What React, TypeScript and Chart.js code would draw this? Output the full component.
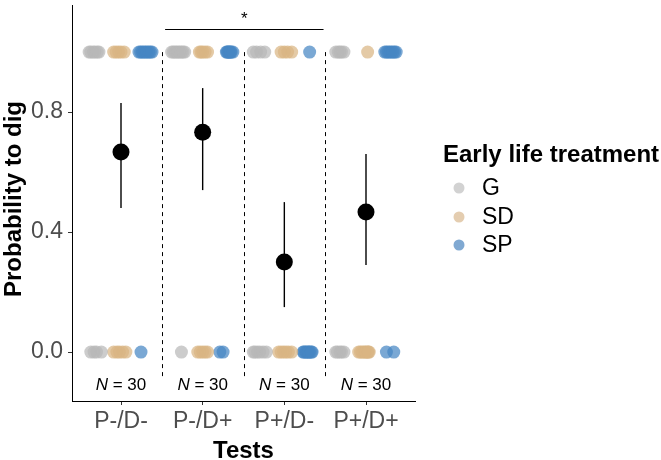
import React, { useEffect, useRef } from "react";
import { Chart, registerables } from "chart.js";

Chart.register(...registerables);

const FONT = '"Liberation Sans", Arial, Helvetica, sans-serif';

// Test conditions on the x axis
const tests = ["P-/D-", "P-/D+", "P+/D-", "P+/D+"];
// Mean probability to dig per test, with its confidence interval
const meanProb = [0.667, 0.733, 0.3, 0.467];
const ciLow = [0.48, 0.54, 0.15, 0.29];
const ciHigh = [0.83, 0.88, 0.5, 0.66];
const sampleN = [30, 30, 30, 30];
const yTicks = [0, 0.4, 0.8];

// Early life treatment groups
const groups = ["G", "SD", "SP"];
const groupColors = ["rgba(185,185,185,0.72)", "rgba(218,182,132,0.72)", "rgba(70,135,195,0.72)"];
const legendColors = ["#d2d2d2", "#e4cdb0", "#80a9d2"];

// Jittered x positions of individuals that dug (y = 1)
const gDug = [0.61, 0.63, 0.66, 0.68, 0.71, 0.73, 1.62, 1.64, 1.66, 1.68, 1.7, 1.72, 1.74, 1.76, 1.78, 2.62, 2.66, 2.71, 2.76, 3.63, 3.66, 3.68, 3.7, 3.73];
const sdDug = [0.91, 0.94, 0.97, 1.0, 1.04, 1.96, 1.98, 2.0, 2.03, 2.06, 2.96, 3.0, 3.04, 3.09, 4.02];
const spDug = [1.22, 1.24, 1.26, 1.28, 1.3, 1.32, 1.34, 1.36, 1.38, 2.29, 2.3, 2.31, 2.32, 2.33, 2.34, 2.35, 2.37, 3.31, 4.23, 4.25, 4.27, 4.29, 4.31, 4.33, 4.35, 4.37];
// Jittered x positions of individuals that did not dig (y = 0)
const gNotDug = [0.63, 0.67, 0.7, 0.76, 1.74, 2.62, 2.64, 2.67, 2.7, 2.74, 2.78, 3.63, 3.65, 3.68, 3.7, 3.73];
const sdNotDug = [0.91, 0.95, 0.98, 1.02, 1.06, 1.94, 1.97, 2.0, 2.03, 2.06, 2.93, 2.96, 2.99, 3.02, 3.05, 3.09, 3.91, 3.93, 3.95, 3.97, 3.99, 4.0, 4.02, 4.03, 4.04];
const spNotDug = [1.245, 2.21, 2.25, 3.23, 3.24, 3.26, 3.27, 3.29, 3.3, 3.31, 3.33, 3.34, 4.25, 4.34];

const dugByGroup = [gDug, sdDug, spDug];
const notDugByGroup = [gNotDug, sdNotDug, spNotDug];

// Pairwise comparison bracket
const sigFrom = 1.54;
const sigTo = 3.48;
const sigLevel = 1.077;
const sigLabel = "*";

const overlay = {
  id: "overlay",
  beforeDatasetsDraw(chart: any) {
    const { ctx, scales } = chart;
    const x = scales.x;
    const y = scales.y;
    ctx.save();
    // separators between tests
    ctx.strokeStyle = "#000";
    ctx.lineWidth = 1;
    ctx.setLineDash([4, 4]);
    for (let i = 1; i < tests.length; i++) {
      const px = Math.round(x.getPixelForValue(i + 0.5)) + 0.5;
      ctx.beginPath();
      ctx.moveTo(px, y.getPixelForValue(1.0));
      ctx.lineTo(px, y.getPixelForValue(-0.08));
      ctx.stroke();
    }
    ctx.setLineDash([]);
    // confidence intervals
    ctx.lineWidth = 1.4;
    for (let i = 0; i < tests.length; i++) {
      const px = x.getPixelForValue(i + 1);
      ctx.beginPath();
      ctx.moveTo(px, y.getPixelForValue(ciLow[i]));
      ctx.lineTo(px, y.getPixelForValue(ciHigh[i]));
      ctx.stroke();
    }
    ctx.restore();
  },
  afterDraw(chart: any) {
    const { ctx, scales, chartArea } = chart;
    const x = scales.x;
    const y = scales.y;
    ctx.save();
    ctx.fillStyle = "#000";
    ctx.strokeStyle = "#000";
    // significance bracket
    ctx.lineWidth = 1;
    const sy = Math.round(y.getPixelForValue(sigLevel)) + 0.5;
    ctx.beginPath();
    ctx.moveTo(x.getPixelForValue(sigFrom), sy);
    ctx.lineTo(x.getPixelForValue(sigTo), sy);
    ctx.stroke();
    ctx.font = `17px ${FONT}`;
    ctx.textAlign = "center";
    ctx.textBaseline = "alphabetic";
    ctx.fillText(sigLabel, x.getPixelForValue((sigFrom + sigTo) / 2), sy - 6);

    // sample sizes
    const ny = y.getPixelForValue(-0.127);
    for (let i = 0; i < tests.length; i++) {
      const cx = x.getPixelForValue(i + 1);
      ctx.font = `italic 17px ${FONT}`;
      const wN = ctx.measureText("N").width;
      ctx.font = `17px ${FONT}`;
      const rest = ` = ${sampleN[i]}`;
      const wR = ctx.measureText(rest).width;
      const left = cx - (wN + wR) / 2;
      ctx.textAlign = "left";
      ctx.font = `italic 17px ${FONT}`;
      ctx.fillText("N", left, ny);
      ctx.font = `17px ${FONT}`;
      ctx.fillText(rest, left + wN, ny);
    }

    // axis titles
    ctx.font = `bold 24px ${FONT}`;
    ctx.textAlign = "center";
    ctx.fillText("Tests", (chartArea.left + chartArea.right) / 2, 458);
    ctx.save();
    ctx.translate(21, 199);
    ctx.rotate(-Math.PI / 2);
    ctx.fillText("Probability to dig", 0, 0);
    ctx.restore();

    // legend
    ctx.textAlign = "left";
    ctx.fillText("Early life treatment", 443, 162);
    const rows = [188, 217, 245];
    ctx.font = `23px ${FONT}`;
    ctx.textBaseline = "middle";
    groups.forEach((g, i) => {
      ctx.fillStyle = legendColors[i];
      ctx.beginPath();
      ctx.arc(459, rows[i], 5.5, 0, Math.PI * 2);
      ctx.fill();
      ctx.fillStyle = "#000";
      ctx.fillText(g, 482, rows[i] + 1);
    });
    ctx.restore();
  },
};

export default function App() {
  const canvasRef = useRef<HTMLCanvasElement | null>(null);

  useEffect(() => {
    if (!canvasRef.current) return;
    Chart.defaults.font.family = FONT;

    const pointSets = groups.map((g, i) => ({
      label: g,
      data: [
        ...dugByGroup[i].map((v) => ({ x: v, y: 1 })),
        ...notDugByGroup[i].map((v) => ({ x: v, y: 0 })),
      ],
      backgroundColor: groupColors[i],
      borderWidth: 0,
      pointRadius: 6.5,
      order: 2,
    }));

    const chart = new Chart(canvasRef.current, {
      type: "scatter",
      data: {
        datasets: [
          ...pointSets,
          {
            label: "mean",
            data: meanProb.map((m, i) => ({ x: i + 1, y: m })),
            backgroundColor: "#000",
            borderWidth: 0,
            pointRadius: 8.5,
            order: 1,
          },
        ],
      },
      options: {
        animation: false,
        responsive: false,
        events: [],
        layout: { autoPadding: false, padding: { left: 0, right: 246, top: 5, bottom: 0 } },
        plugins: { legend: { display: false }, tooltip: { enabled: false } },
        scales: {
          x: {
            type: "linear",
            min: 0.4,
            max: 4.6,
            afterBuildTicks: (scale: any) => {
              scale.ticks = tests.map((_, i) => ({ value: i + 1 }));
            },
            afterFit: (scale: any) => {
              scale.height = 59;
              scale.paddingLeft = 0;
              scale.paddingRight = 0;
            },
            ticks: {
              autoSkip: false,
              maxRotation: 0,
              padding: 3,
              color: "#4d4d4d",
              font: { size: 23 },
              callback: (v: any) => tests[Math.round(Number(v)) - 1] ?? "",
            },
            grid: { drawOnChartArea: false, drawTicks: true, tickLength: 4, color: "#333" },
            border: { display: true, color: "#000", width: 1 },
          },
          y: {
            type: "linear",
            min: -0.163,
            max: 1.157,
            afterBuildTicks: (scale: any) => {
              scale.ticks = yTicks.map((v) => ({ value: v }));
            },
            afterFit: (scale: any) => {
              scale.width = 72;
              scale.paddingTop = 0;
              scale.paddingBottom = 0;
            },
            ticks: {
              autoSkip: false,
              padding: 5,
              color: "#4d4d4d",
              font: { size: 23 },
              callback: (v: any) => Number(v).toFixed(1),
            },
            grid: { drawOnChartArea: false, drawTicks: true, tickLength: 4, color: "#333" },
            border: { display: true, color: "#000", width: 1 },
          },
        },
      },
      plugins: [overlay],
    });

    return () => chart.destroy();
  }, []);

  return (
    <div style={{ position: "absolute", left: 0, top: 0, width: 661, height: 460, background: "#fff" }}>
      <canvas ref={canvasRef} width={661} height={460} />
    </div>
  );
}
